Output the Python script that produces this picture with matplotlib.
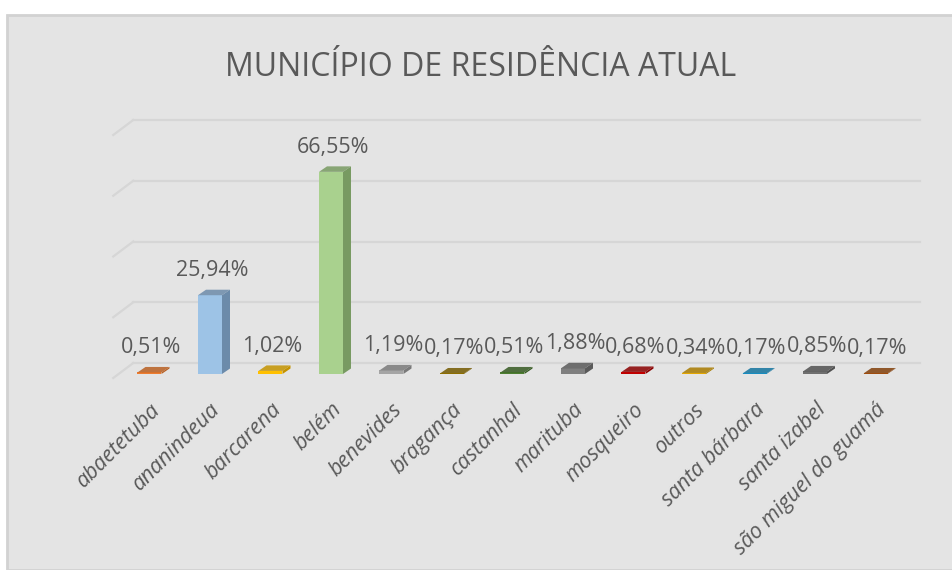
import numpy as np
import matplotlib.pyplot as plt
from matplotlib.patches import Polygon, Rectangle

municipios = ['abaetetuba', 'ananindeua', 'barcarena', 'belém', 'benevides', 'bragança',
              'castanhal', 'marituba', 'mosqueiro', 'outros', 'santa bárbara',
              'santa izabel', 'são miguel do guamá']
valores = [0.51, 25.94, 1.02, 66.55, 1.19, 0.17, 0.51, 1.88, 0.68, 0.34, 0.17, 0.85, 0.17]
rotulos = ['0,51%', '25,94%', '1,02%', '66,55%', '1,19%', '0,17%', '0,51%', '1,88%',
           '0,68%', '0,34%', '0,17%', '0,85%', '0,17%']
frente = ['#ED7D31', '#9DC3E6', '#FFC000', '#A9D18E', '#A5A5A5', '#A07D00', '#4E7F32',
          '#7F7F7F', '#C00000', '#E3A600', '#1B9FD9', '#6F6F6F', '#B5560F']
lado = ['#B85F22', '#6C8BAA', '#C49300', '#789A62', '#7A7A7A', '#735900', '#365A22',
        '#5A5A5A', '#8A0000', '#A87B00', '#13739E', '#505050', '#82400B']

plt.rcParams['font.family'] = ['Open Sans', 'DejaVu Sans']
W, H = 953, 570
fig = plt.figure(figsize=(W / 100, H / 100), dpi=100, facecolor='white')
fig.patches.append(Rectangle((7 / W, 0), 1, 1 - 15 / H, transform=fig.transFigure,
                             facecolor='#E4E4E4', edgecolor='#D2D2D2', lw=2, zorder=-5))

x0, x1 = 119.25, 905.75
yb, yt = 374, 131
ax = fig.add_axes([x0 / W, (H - yb) / H, (x1 - x0) / W, (yb - yt) / H])
ax.set_xlim(-0.5, 12.5)
ax.set_ylim(0, 80)
ax.patch.set_visible(False)
for s in ax.spines.values():
    s.set_visible(False)

px = (x1 - x0) / 13.0   # pixels per category
py = (yb - yt) / 80.0   # pixels per percent

def off(dxp, dyp):
    return dxp / px, dyp / py

# back wall gridlines + side wall diagonals
gdx, gdy = off(14, 11)
fdx, fdy = off(-6, -4)
for v in [0, 20, 40, 60, 80]:
    ax.plot([-0.5 + gdx, 12.5 + gdx], [v + gdy, v + gdy], color='#D6D6D6', lw=1.6,
            clip_on=False, zorder=1)
    ax.plot([-0.5 + fdx, -0.5 + gdx], [v + fdy, v + gdy], color='#D6D6D6', lw=1.6,
            clip_on=False, zorder=1)

x = np.arange(len(municipios))
w = 24 / px
ddx, ddy = off(8, 5.5)
ax.bar(x, valores, width=w, color=frente, zorder=3, clip_on=False)
for xi, v, cf, cl in zip(x, valores, frente, lado):
    l, r = xi - w / 2, xi + w / 2
    ax.add_patch(Polygon([[r, 0], [r + ddx, ddy], [r + ddx, v + ddy], [r, v]],
                         closed=True, facecolor=cl, edgecolor='none', zorder=2, clip_on=False))
    ax.add_patch(Polygon([[l, v], [r, v], [r + ddx, v + ddy], [l + ddx, v + ddy]],
                         closed=True, facecolor=cl, edgecolor='none', alpha=0.85,
                         zorder=3, clip_on=False))

for xi, v, t in zip(x, valores, rotulos):
    ax.annotate(t, (xi, v), xytext=(2, 14), textcoords='offset pixels', ha='center',
                va='bottom', fontsize=15.5, color='#595959')

ax.set_xticks(x)
ax.set_xticklabels(municipios, rotation=45, ha='right', va='top', rotation_mode='anchor',
                   fontsize=15.5, color='#595959', style='italic')
ax.tick_params(axis='x', length=0, pad=18)
ax.set_yticks([])

fig.text(481 / W, 1 - 68 / H, 'MUNICÍPIO DE RESIDÊNCIA ATUAL', ha='center', va='center',
         fontsize=23, color='#595959')

fig.savefig('out.png', dpi=100, facecolor=fig.get_facecolor())
